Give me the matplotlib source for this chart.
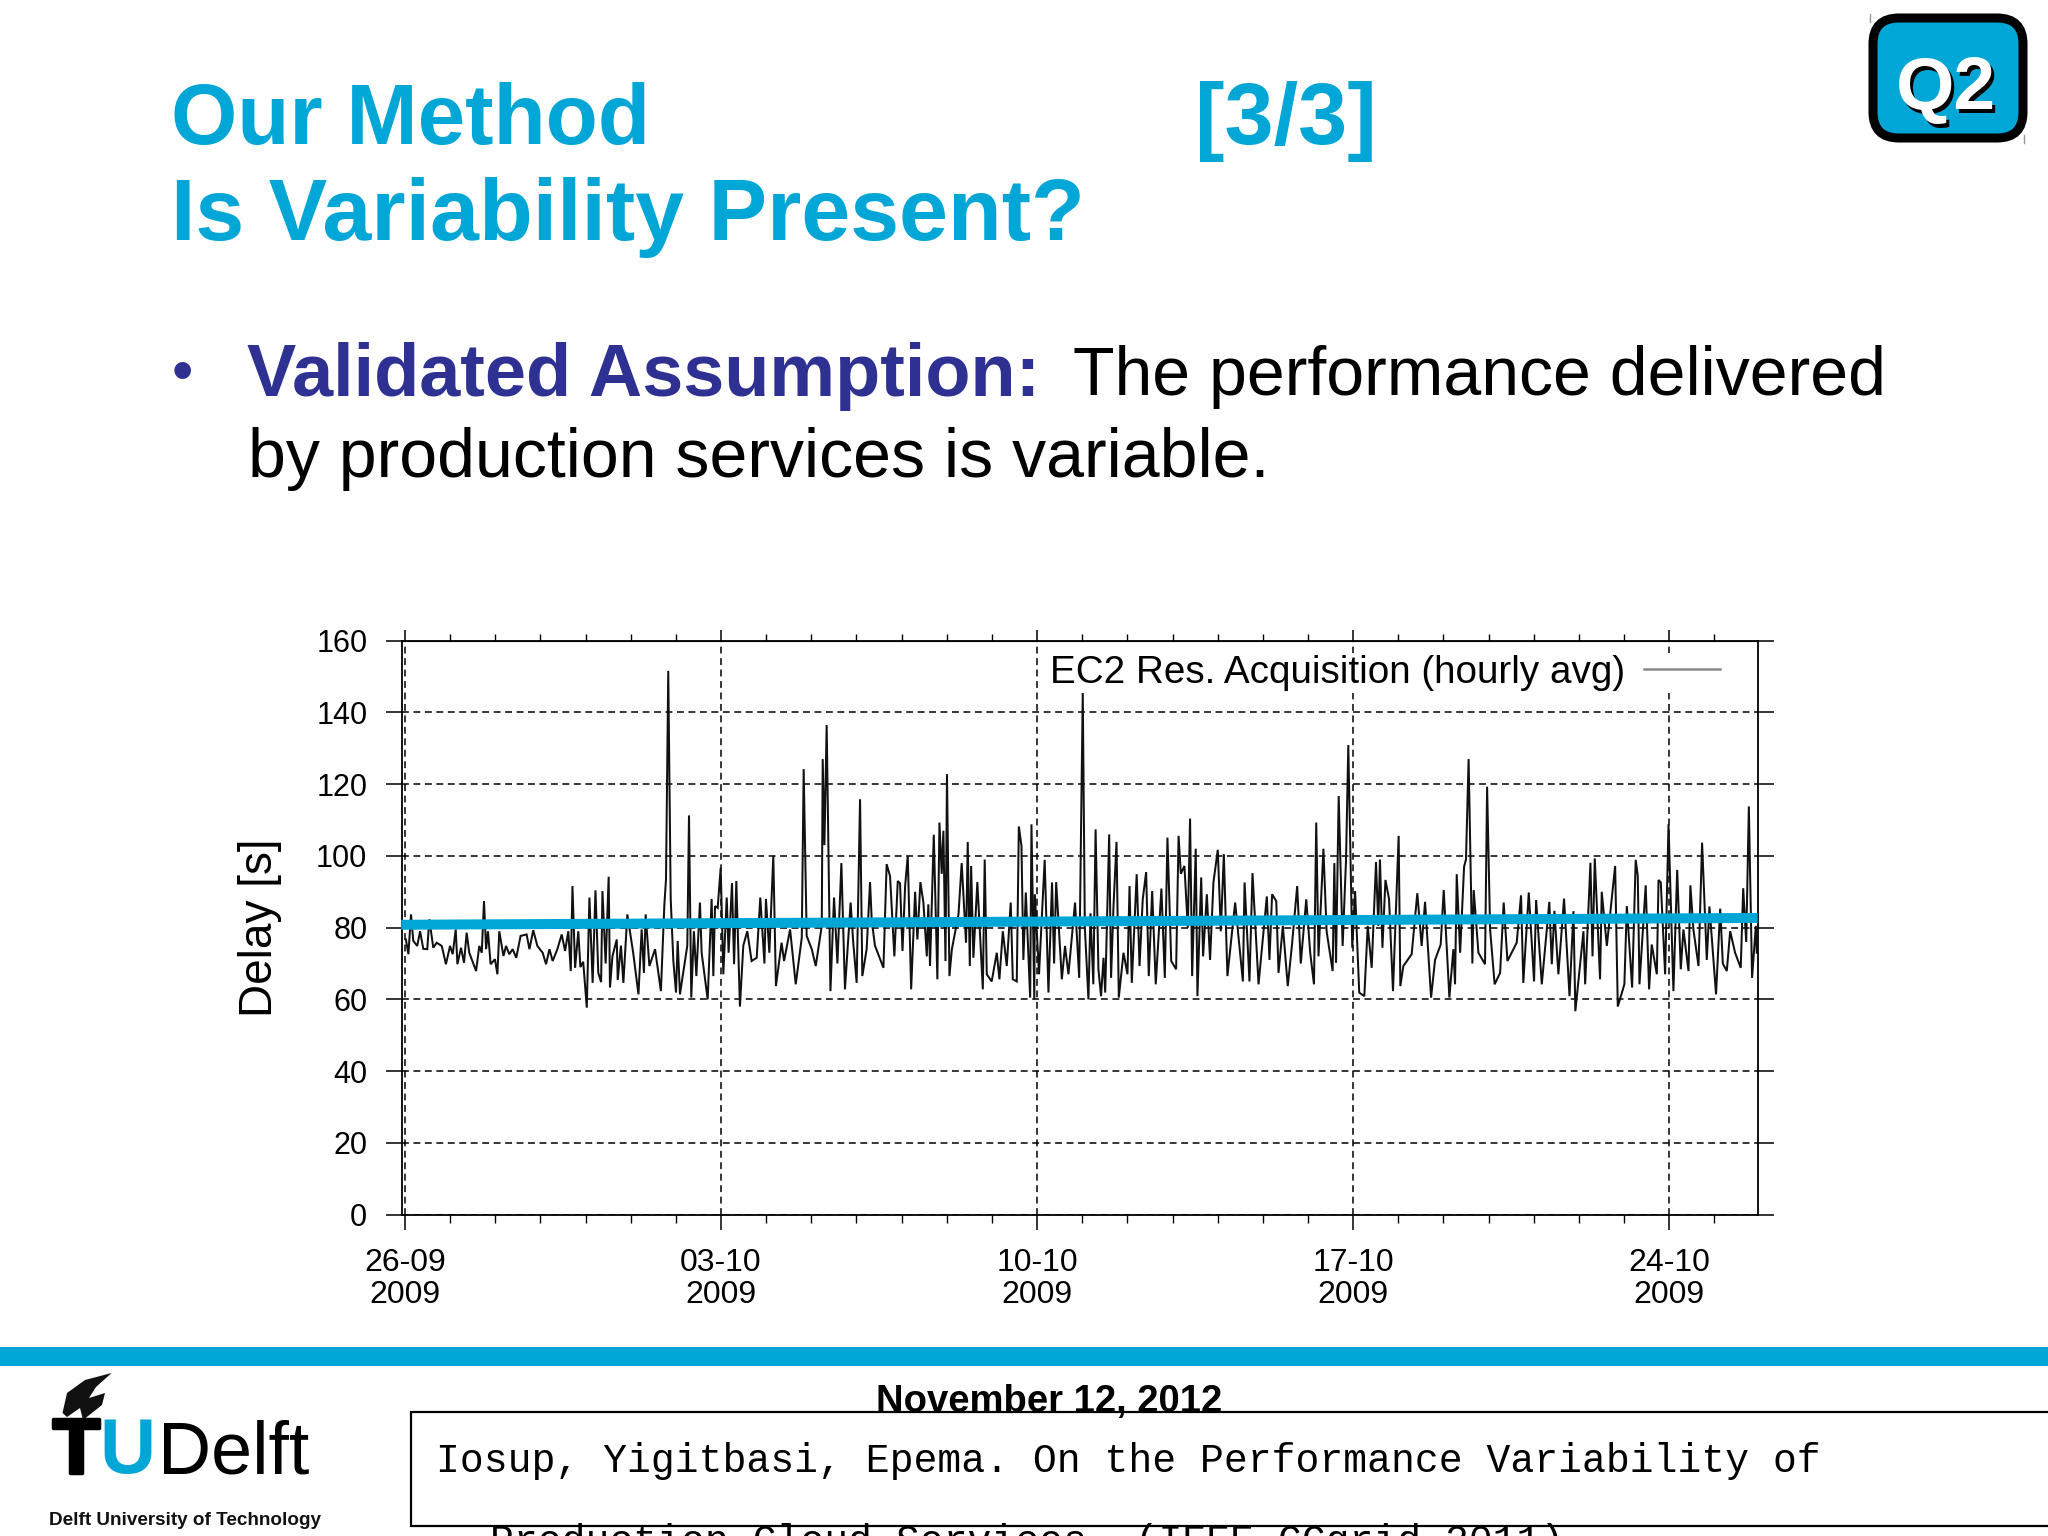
import matplotlib
matplotlib.use("Agg")
import matplotlib.pyplot as plt
import matplotlib.patheffects as pe
from matplotlib.patches import FancyBboxPatch, Polygon, Rectangle
from matplotlib.lines import Line2D

plt.rcParams['font.family'] = ['Liberation Sans', 'DejaVu Sans']

CYAN = '#00A6D6'
NAVY = '#2E3192'

hours = [
 0.5,1.8,3.2,4.4,6.5,8,9.7,11.8,12.9,15,16.8,19.5,21.7,23.9,25.3,26.9,27.8,29.7,31.3,32.7,34.1,37.7,39.4,40.7,41.9,43,44,45.4,47.7,49,50,52.2,53.6,55.3,57.1,59,61.3,64.5,66,68,70.2,73,74.8,76.6,78.3,80.8,83.1,84.9,86.6,87.9,88.8,
 90.2,91.9,93,94.5,96.4,97.8,99.5,101,102.5,104,104.7,106.4,108,108.7,110,112.3,112.8,114.5,115.8,117.9,121,123.8,
 125.5,126.7,127.6,129.6,132.6,135.7,137.5,138.4,139.6,140.9,142.3,143.7,144.6,145.8,149.7,150.6,151.8,153.2,154.5,156.4,157.3,160.5,162.6,163.5,164.4,165.8,167.4,168.8,170.6,171.6,173.4,174.5,175.7,177.6,179.4,181.5,183.8,186.5,188.4,190.6,191.4,193.2,195.3,196.7,199.7,201,204.2,207.2,210.4,211.4,213,215.7,217.8,221,221.5,222.4,223.6,225.6,227.5,229.3,231.4,233.3,236.3,237.7,239.5,241.3,242.5,
 244.8,246.6,247.5,249.2,253.7,255.4,257.2,259.5,261.3,262.5,263.8,265.2,266.6,268.4,270.5,271.7,273.3,274.9,276.7,277.5,278.4,280.4,282.3,283.4,284.6,285.5,286.6,287.4,288.7,290,293.5,295.2,297.5,298.4,299.5,300.2,301.4,303.5,306.4,307.4,308.5,311.1,313.8,315.2,317,319.1,321.2,322.3,324.4,325.5,326.9,327.9,329.2,331.5,332.2,333.7,334,336.2,339.2,341.2,343.1,344.2,345.3,348.3,350,351.8,355.3,357.5,359.4,360.5,362.4,363.5,365,
 366.2,367.7,369.1,370.4,371.3,373.4,374.4,375.7,377.3,378.5,381,383.1,384.2,385.4,388,389.5,391.2,393,394.4,396.2,398.1,401.1,402.9,404.3,406.3,408.9,410.2,411.4,413.3,415.1,416.3,417.4,419.3,420.2,422.2,423.2,425.2,426.9,428.7,431,432.6,434.2,436.1,440.2,444.3,445.2,447.8,449.4,452.6,457,458.4,459.8,462,463.2,465.5,468.1,470.3,473.1,475,477.9,480,482,483.2,484.4,
 487,488.7,491.9,492.8,493.7,495.1,497.2,499,500.2,502.3,503.8,506,508.7,510.5,512.6,514.9,516.1,517,518.3,519.9,521.8,523.9,526.9,527.8,529.4,533.8,536.8,539.1,540.9,544.1,546.2,549.2,550.8,553.8,555.9,556.8,557.7,559.5,561.6,562.6,564,566,566.7,569.2,572.7,573.8,575.4,577.8,580.7,582.6,584.6,589.5,591.8,593,595.9,598.7,599.8,602.8,606.8,608.1,609.5,
 611.6,614.6,617.5,619.6,620.6,624.9,625.8,628.6,629.7,630.9,633.7,634.6,637.3,641.7,643.1,646.6,647.9,650.7,652.6,653.7,654.6,657.9,659.7,661.1,663.8,664.7,665.9,668.2,670,672.6,674.6,676.5,677.9,680.6,681.6,683.2,685.9,687.8,690.3,691.7,695.2,697.4,698.8,700.9,702.7,705.3,708.3,709.6,711.2,712.6,714.3,716.3,716.8]

delays = [
 76.7,72.6,83.7,76.3,74.9,79,74.1,74,82.3,74.4,75.8,74.9,69.8,74.9,72.6,79.5,69.8,74.4,70.2,78.6,73,67.9,74.9,73,87.4,74,79,69.8,71.2,67,79,72.1,74.9,72.6,74,71.6,77.7,78.1,74,79.3,74.9,73,69.8,74,70.7,74,78.1,73.5,79,67.9,91.6,
 68.8,79,69,70.5,57.7,88.4,64.6,90.4,67.4,64.8,90.2,70,94.2,63.3,72,76.7,65.4,75,64.6,83.7,73,61.4,
 79.5,67.4,83.7,69.3,74,62.3,86,93.5,151.6,88,70.7,61.9,76.3,61.4,75,111.3,60.5,79,66.5,87,73,60,88,66.5,86,85.5,96.7,67,88.4,73,92.4,69.8,93,58,75,79,70.7,71.6,88.4,70,88,73,100,63.7,75.8,70.7,79.5,64.2,77.2,124.2,77.7,74,69.3,80.5,127,103,136.5,62.3,88.4,70,98,62.8,87,75.8,64.6,115.8,66.5,
 74,92.7,82,75,68.8,97.7,94.4,72,93,92.4,73.5,91.6,100,62.8,90,76.7,92.7,87,72,86.5,69.3,105.9,65.6,109.3,95,107,70.7,122.8,66.5,74,83.7,98,75.8,103.9,69.3,97.2,71.6,92.7,62.8,99,67,65,73,65.6,79,69.3,87,65.6,65,108.2,102.8,71,89.8,60.5,108.8,60,89.3,67,98.9,61.9,92.6,70,92.7,65.6,74.9,67,87,66,145.6,80,60,84,64.2,
 107.4,68.4,60.9,71.6,61.9,106,66,86,103.9,60.5,73,67,91.6,64.6,94.9,69.3,87.9,95.5,66.5,90.2,64.2,90.9,66,105.1,70.7,68.4,105.6,95,97.2,80,110.4,66.5,102,60.9,94,72,89.3,71,92.7,101.7,79,100.5,66.5,87,65,92.6,65,95.2,64.2,88.7,71,89.3,87.4,67.4,80.5,63.7,75,91.6,70,87.9,73,64.2,109.3,72,
 102,79,67.9,98,70.2,116.7,74.9,99,130.9,74.4,90.2,61.9,60.9,80.5,68.8,98.3,80.5,99,74.4,93.3,88,62.3,105.6,63.7,69.3,72.6,89.6,74.9,87.2,60.5,71,75.3,90.5,60.5,74,64.2,94.9,73,97,99,127,70,90.5,73,69.8,119.3,79.5,64.2,67.4,87,70.7,75.8,89,64.6,89.8,65,87.7,64.2,87.2,69.8,84.7,
 67,88.1,60.9,84.6,56.7,79,64.2,98.1,72,99.3,65.6,90,74.9,97.2,58,64.2,86,63.3,98.9,94.4,64.2,91.8,62.8,75.3,67,93.3,92.6,67,108.8,62.3,96.1,68.4,79.5,67.9,91.8,79.5,69.3,103.7,71,85.9,61.4,85.3,70,67.9,79,73,68.8,91,76,113.8,66,80.5,73]

trend_hours = [-2, 719]
trend_delays = [80.8, 82.7]

y_ticks = [0, 20, 40, 60, 80, 100, 120, 140, 160]
major_hours = [0, 168, 336, 504, 672]
major_labels = ['26-09\n2009', '03-10\n2009', '10-10\n2009', '17-10\n2009', '24-10\n2009']
minor_hours = [h for h in range(24, 697, 24) if h not in major_hours]
series_label = 'EC2 Res. Acquisition (hourly avg)'

# the hours above were read with a slightly coarse day width; this aligns them with the date ticks
hours_on_axis = [h * 45.26 / 45.15 for h in hours]

W, H = 2048, 1536
fig = plt.figure(figsize=(20.48, 15.36), dpi=100, facecolor='white')

# slide layer, in pixels
bg = fig.add_axes([0, 0, 1, 1], zorder=0)
bg.set_xlim(0, W); bg.set_ylim(H, 0); bg.axis('off')

bg.text(171, 144, 'Our Method', color=CYAN, fontsize=61.5, fontweight='bold', ha='left', va='baseline')
bg.text(1195, 144, '[3/3]', color=CYAN, fontsize=63.5, fontweight='bold', ha='left', va='baseline')
bg.text(171, 240, 'Is Variability Present?', color=CYAN, fontsize=63.3, fontweight='bold', ha='left', va='baseline')

bg.text(172, 391, '•', color=NAVY, fontsize=44, ha='left', va='baseline')
bg.text(247, 396, 'Validated Assumption:', color=NAVY, fontsize=53.2, fontweight='bold', ha='left', va='baseline')
bg.text(1073, 395, 'The performance delivered', color='black', fontsize=49, ha='left', va='baseline')
bg.text(248, 477, 'by production services is variable.', color='black', fontsize=49, ha='left', va='baseline')

# Q2 badge
bg.add_patch(FancyBboxPatch((1888, 33), 120, 90, boxstyle='round,pad=15,rounding_size=26',
                            fc=CYAN, ec='black', lw=6.5, zorder=3))
bg.text(1949, 93, 'Q2', color='black', fontsize=54, fontweight='bold', ha='center', va='center', zorder=4)
bg.text(1946, 90, 'Q2', color='white', fontsize=54, fontweight='bold', ha='center', va='center', zorder=5)
bg.plot([1870, 1870], [14, 22], color='#999999', lw=1)
bg.plot([2024, 2024], [135, 143], color='#999999', lw=1)

# footer
bg.add_patch(Rectangle((0, 1347), W, 19, fc=CYAN, ec='none'))
bg.text(76, 1473, 'T', color='black', fontsize=56, fontweight='bold', ha='center', va='baseline',
        path_effects=[pe.withStroke(linewidth=2.5, foreground='black')])
bg.text(127, 1473, 'U', color=CYAN, fontsize=56, fontweight='bold', ha='center', va='baseline')
bg.text(158, 1473, 'Delft', color='black', fontsize=53, ha='left', va='baseline')
bg.add_patch(Polygon([(111.6, 1373), (85, 1380), (67, 1393), (62.5, 1413), (67, 1417), (80, 1408),
                      (83, 1420), (102, 1405), (105, 1393), (89, 1398), (96, 1387)], fc='#111111', ec='none'))
bg.text(49, 1525, 'Delft University of Technology', color='#111111', fontsize=13.6, fontweight='bold',
        ha='left', va='baseline')
bg.text(876, 1412, 'November 12, 2012', color='black', fontsize=27.5, fontweight='bold', ha='left', va='baseline')
bg.add_patch(Rectangle((411, 1412), 1700, 114, fc='white', ec='black', lw=1.6, zorder=2))
bg.text(436, 1472, 'Iosup, Yigitbasi, Epema. On the Performance Variability of', color='black',
        fontsize=28.65, family=['Liberation Mono'], ha='left', va='baseline', zorder=3)
bg.text(490, 1553, 'Production Cloud Services. (IEEE CCgrid 2011)', color='black',
        fontsize=28.65, family=['Liberation Mono'], ha='left', va='baseline', zorder=3)

# chart
ax = fig.add_axes([402 / W, 1 - 1214.6 / H, 1356 / W, 573.9 / H], zorder=2)
ax.set_xlim(-1.59, 719.2)
ax.set_ylim(0, 160)
ax.set_yticks(y_ticks)
ax.set_xticks(major_hours)
ax.set_xticklabels(major_labels, fontsize=23, linespacing=1.08)
ax.set_xticks(minor_hours, minor=True)
ax.tick_params(axis='y', which='major', length=11.5, width=1.1, labelsize=22, pad=13.5, right=True, left=True)
ax.tick_params(axis='x', which='major', length=11, width=1.1, pad=13)
ax.tick_params(axis='x', which='minor', length=5.5, width=1.0)
top = ax.secondary_xaxis('top')
top.set_xticks(major_hours)
top.set_xticklabels([])
top.set_xticks(minor_hours, minor=True)
top.tick_params(axis='x', which='major', length=8, width=1.1)
top.tick_params(axis='x', which='minor', length=5, width=1.0)
for s in ax.spines.values():
    s.set_linewidth(1.3)
ax.grid(True, which='major', color='black', lw=1.1, ls=(0, (4.5, 3)))
ax.set_axisbelow(True)
series, = ax.plot(hours_on_axis, delays, color='#111111', lw=1.45, solid_joinstyle='miter', zorder=2)
ax.plot(trend_hours, trend_delays, color=CYAN, lw=7.2, solid_capstyle='butt', zorder=3, clip_on=False)
ax.set_ylabel('Delay [s]', fontsize=33, labelpad=0)
ax.yaxis.set_label_coords((282 - 402) / 1356, 0.5)

handle = Line2D([], [], color='#8a8a8a', lw=1.8)
leg = ax.legend([handle], [series_label], loc='center right', markerfirst=False,
                bbox_to_anchor=(1722 / W, 1 - 673 / H), bbox_transform=fig.transFigure,
                fontsize=27.8, frameon=True, facecolor='white', edgecolor='none', framealpha=1,
                borderpad=0.05, borderaxespad=0, handlelength=1.97, handletextpad=0.5)
leg.set_zorder(5)

fig.savefig('out.png', dpi=100, facecolor='white')
